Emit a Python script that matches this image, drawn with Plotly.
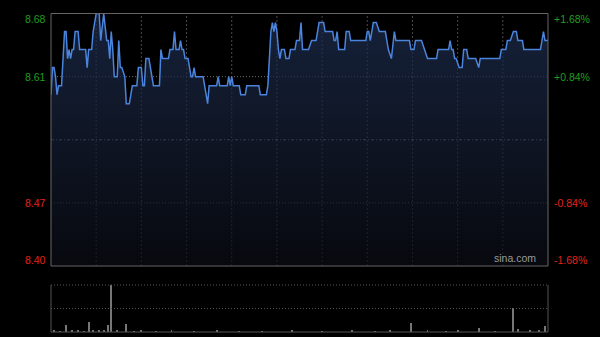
import plotly.graph_objects as go

# ---------------- data ----------------
# minute index since open (0..330, lunch break removed), price (HKD)
minute_idx = [0, 1, 2, 3, 4, 5, 7, 9, 10, 11, 12, 13, 14, 15, 16, 18, 19, 23, 24, 25, 27, 28, 30, 32,
              33, 34, 35, 37, 38, 39, 40, 41, 42, 44, 45, 46, 47, 49, 50, 52, 53, 54, 57, 58, 60, 61,
              62, 63, 65, 68, 72, 73, 74, 78, 79, 81, 82, 83, 85, 86, 87, 88, 89, 91, 92, 93, 94, 95,
              96, 101, 102, 104, 105, 110, 111, 112, 117, 118, 119, 120, 121, 125, 126, 129, 130, 138,
              139, 143, 144, 145, 146, 147, 148, 149, 150, 151, 152, 153, 155, 156, 158, 159, 162, 163,
              165, 166, 167, 171, 173, 176, 178, 181, 182, 187, 188, 189, 190, 191, 195, 196, 198, 199,
              209, 210, 211, 212, 214, 216, 218, 222, 224, 226, 228, 229, 238, 239, 241, 242, 246, 248,
              250, 256, 257, 264, 265, 266, 267, 268, 269, 271, 273, 274, 276, 277, 282, 284, 285, 298,
              299, 302, 303, 305, 307, 309, 310, 313, 314, 325, 327, 328, 330]
price = [8.59, 8.62, 8.62, 8.61, 8.59, 8.60, 8.60, 8.66, 8.66, 8.63, 8.64, 8.63, 8.64, 8.64, 8.66, 8.66,
         8.64, 8.64, 8.62, 8.64, 8.64, 8.66, 8.68, 8.68, 8.65, 8.67, 8.68, 8.65, 8.65, 8.63, 8.66, 8.64,
         8.61, 8.61, 8.65, 8.62, 8.62, 8.61, 8.58, 8.58, 8.59, 8.60, 8.60, 8.62, 8.62, 8.60, 8.60, 8.63,
         8.63, 8.60, 8.60, 8.64, 8.63, 8.63, 8.64, 8.64, 8.66, 8.64, 8.64, 8.65, 8.64, 8.64, 8.63, 8.63,
         8.62, 8.61, 8.61, 8.62, 8.61, 8.61, 8.60, 8.58, 8.60, 8.60, 8.61, 8.60, 8.60, 8.61, 8.60, 8.61,
         8.60, 8.60, 8.59, 8.59, 8.60, 8.60, 8.59, 8.59, 8.60, 8.63, 8.66, 8.67, 8.66, 8.67, 8.66, 8.64,
         8.63, 8.64, 8.64, 8.63, 8.63, 8.64, 8.64, 8.65, 8.65, 8.67, 8.64, 8.64, 8.65, 8.65, 8.67, 8.67,
         8.66, 8.66, 8.65, 8.65, 8.66, 8.64, 8.64, 8.66, 8.66, 8.65, 8.65, 8.66, 8.66, 8.65, 8.67, 8.67,
         8.66, 8.66, 8.64, 8.63, 8.66, 8.65, 8.65, 8.64, 8.64, 8.65, 8.65, 8.64, 8.63, 8.63, 8.64, 8.64,
         8.65, 8.64, 8.64, 8.63, 8.63, 8.62, 8.62, 8.64, 8.64, 8.63, 8.63, 8.62, 8.63, 8.63, 8.64, 8.64,
         8.65, 8.65, 8.66, 8.66, 8.65, 8.65, 8.64, 8.64, 8.66, 8.65, 8.65]

# volume bars (relative units)
vol_minute = [2, 6, 10, 14, 18, 22, 25, 28, 32, 35, 38, 40, 44, 50, 55, 60, 70, 80, 95, 110, 125, 140,
              160, 180, 200, 215, 225, 239, 250, 262, 270, 284, 295, 307, 310, 318, 324, 328]
volume = [3, 2, 15, 3, 4, 2, 21, 4, 5, 3, 14, 100, 3, 17, 2, 3, 2, 3, 2, 3, 2, 2, 3, 2, 4, 2, 3, 20, 3, 2,
          4, 9, 2, 51, 6, 3, 4, 12]

prev_close = 8.54
y_ticks = [8.68, 8.61, 8.47, 8.40]
y_tick_text = ["8.68", "8.61", "8.47", "8.40"]
pct_tick_text = ["+1.68%", "+0.84%", "-0.84%", "-1.68%"]
session_grid = [30, 60, 90, 120, 150, 180, 210, 240, 270, 300]

# ---------------- layout constants ----------------
W, H = 600, 337
X0, X1 = 51 / W, 548 / W
Y_TOP, Y_BOT = 1 - 13.5 / H, 1 - 266 / H
V_TOP, V_BOT = 1 - 285 / H, 1 - 332 / H
YMIN, YMAX = 8.40, 8.68
GREEN, RED = "#1f9e1f", "#e0231c"

fig = go.Figure()

fig.add_trace(go.Scatter(
    x=minute_idx, y=price, mode="lines",
    line=dict(color="#4a84dc", width=1.5),
    fill="tozeroy",
    fillgradient=dict(type="vertical", start=YMIN, stop=YMAX,
                      colorscale=[[0, "rgba(10,12,20,0.72)"], [1, "rgba(30,46,80,0.72)"]]),
    hoverinfo="skip", xaxis="x", yaxis="y"))

fig.add_trace(go.Bar(
    x=vol_minute, y=volume, width=0.6, marker=dict(color="#777777", line=dict(width=0)),
    hoverinfo="skip", xaxis="x2", yaxis="y2"))

shapes = []
# vertical session grid
for t in session_grid:
    shapes.append(dict(type="line", xref="x", yref="paper", x0=t, x1=t, y0=Y_BOT, y1=Y_TOP,
                       line=dict(color="#4a4a4a", width=1, dash="2px,2px"), layer="below"))
# horizontal grid
for v in [8.61, 8.47]:
    shapes.append(dict(type="line", xref="paper", yref="y", x0=X0, x1=X1, y0=v, y1=v,
                       line=dict(color="#6a6a6a", width=1, dash="1px,2px"), layer="below"))
shapes.append(dict(type="line", xref="paper", yref="y", x0=X0, x1=X1, y0=prev_close, y1=prev_close,
                   line=dict(color="#7a8498", width=1, dash="3px,2px,1px,2px"), layer="below"))
# main border
shapes.append(dict(type="rect", xref="paper", yref="paper", x0=X0, x1=X1, y0=Y_BOT, y1=Y_TOP,
                   line=dict(color="#666666", width=1), layer="above"))
# volume panel frame
shapes.append(dict(type="line", xref="paper", yref="paper", x0=X0, x1=X1, y0=V_TOP, y1=V_TOP,
                   line=dict(color="#555555", width=1, dash="1px,2px")))
shapes.append(dict(type="line", xref="paper", yref="paper", x0=X0, x1=X1,
                   y0=(V_TOP + V_BOT) / 2, y1=(V_TOP + V_BOT) / 2,
                   line=dict(color="#555555", width=1, dash="1px,2px")))
shapes.append(dict(type="line", xref="paper", yref="paper", x0=X0, x1=X1, y0=V_BOT, y1=V_BOT,
                   line=dict(color="#555555", width=1)))
for xx in (X0, X1):
    shapes.append(dict(type="line", xref="paper", yref="paper", x0=xx, x1=xx, y0=V_BOT, y1=V_TOP,
                       line=dict(color="#555555", width=1)))

annotations = []
for i, v in enumerate(y_ticks):
    col = GREEN if v > prev_close else RED
    shift = -5.5 if i == 0 else (6 if i == len(y_ticks) - 1 else 0)
    annotations.append(dict(x=X0, xref="paper", y=v, yref="y", text=y_tick_text[i], showarrow=False,
                            xanchor="right", yanchor="middle", xshift=-3, yshift=shift,
                            font=dict(family="Arial, Liberation Sans", size=10.5, color=col)))
    annotations.append(dict(x=X1, xref="paper", y=v, yref="y", text=pct_tick_text[i], showarrow=False,
                            xanchor="left", yanchor="middle", xshift=4, yshift=shift,
                            font=dict(family="Arial, Liberation Sans", size=10.5, color=col)))
annotations.append(dict(x=X1, xref="paper", y=YMIN, yref="y", text="sina.com", showarrow=False,
                        xanchor="right", yanchor="bottom", xshift=-10, yshift=0,
                        font=dict(family="Arial, Liberation Sans", size=10.5, color="#9a9a9a")))

fig.update_layout(
    width=W, height=H, margin=dict(l=0, r=0, t=0, b=0),
    paper_bgcolor="#000000", plot_bgcolor="#000000", showlegend=False,
    xaxis=dict(domain=[X0, X1], range=[0, 330], showgrid=False, zeroline=False,
               showticklabels=False, ticks="", fixedrange=True),
    yaxis=dict(domain=[Y_BOT, Y_TOP], range=[YMIN, YMAX], showgrid=False, zeroline=False,
               showticklabels=False, ticks="", fixedrange=True),
    xaxis2=dict(domain=[X0, X1], range=[0, 330], anchor="y2", showgrid=False, zeroline=False,
                showticklabels=False, ticks="", fixedrange=True),
    yaxis2=dict(domain=[V_BOT, V_TOP], range=[0, 100], anchor="x2", showgrid=False, zeroline=False,
                showticklabels=False, ticks="", fixedrange=True),
    shapes=shapes, annotations=annotations, bargap=0,
)

fig.write_html("out.html", config={"displayModeBar": False})
